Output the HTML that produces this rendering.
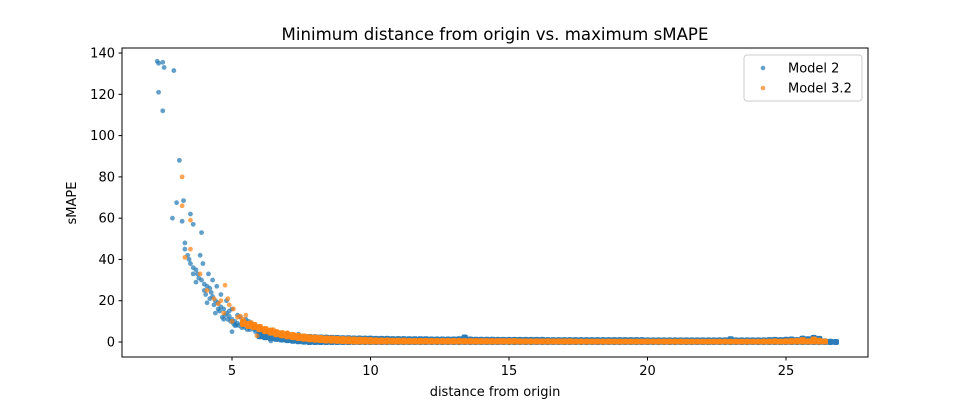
<!DOCTYPE html>
<html><head><meta charset="utf-8"><style>
body{margin:0;background:#fff;}
svg text{font-family:"DejaVu Sans","Liberation Sans",sans-serif;}
</style></head><body>
<svg id="chart" width="965" height="401" xmlns="http://www.w3.org/2000/svg">
<rect width="965" height="401" fill="#fff"/>
<text x="495" y="40" text-anchor="middle" font-size="16.6">Minimum distance from origin vs. maximum sMAPE</text>
<g id="marks"></g>
<rect x="122" y="48" width="746" height="309" fill="none" stroke="#000" stroke-width="1"/>
<g id="axes"></g>
<text x="495" y="396" text-anchor="middle" font-size="13">distance from origin</text>
<text transform="translate(76,203) rotate(-90)" text-anchor="middle" font-size="13">sMAPE</text>
<g>
<rect x="744" y="55" width="118" height="46" rx="3" fill="#fff" fill-opacity="0.8" stroke="#ccc"/>
<circle cx="763" cy="68" r="2.3" fill="#1f77b4" fill-opacity="0.7"/>
<text x="788" y="72.5" font-size="13">Model 2</text>
<circle cx="763" cy="88" r="2.3" fill="#ff7f0e" fill-opacity="0.7"/>
<text x="788" y="92.5" font-size="13">Model 3.2</text>
</g>
</svg>
<script>
const xTicks=[5,10,15,20,25];
const yTicks=[0,20,40,60,80,100,120,140];
const blueHeadX=[2.3,2.35,2.5,2.55,2.9,2.35,2.5,3.1,2.85,3.0,3.2,3.25,3.3,3.3,3.5,3.6,3.9,3.4,3.45,3.5,3.6,3.7,3.75,3.8,3.9,4.0,4.1,4.0,4.2,4.25,4.3,4.4,4.5,4.6,4.7,4.8,4.9,5.0,5.1,5.2,5.4,5.6,5.8,5.0,6.4,3.85,4.15,4.45,3.95,4.3,4.6,4.8,5.0,5.2,5.5,5.7,4.35,4.55,4.75,4.95,5.15,5.35,5.55,4.2,4.9,5.3,5.6,5.9,6.2,6.6,7.0,7.4,4.65,4.85,5.05,5.25,5.45,5.65,5.85,6.05,4.4,4.1,3.7,3.6,4.05,4.5,4.7,5.1];
const blueHeadY=[136,135,135.5,133,131.5,121,112,88,60,67.5,58.5,68.5,48,45,62,57,53,42,40,38,36,35,33,31,30,28,27,25,26,24,22,20,19,17,16,14,12.5,11,10,9,8,7,6,5,0.5,42,33,27,38,30,23,20,16,13,11,9,18,15,13,10,8,7,6,21,15,12,10,7,6,5,4.2,3.8,12,11,9,8,7,6,5,4.5,14,19,29,33,23,16,11,8];
const blueTailX=[6.0,6.2,6.4,6.6,6.8,7.0,7.2,7.4,7.6,7.8,8.0,8.2,8.4,8.6,8.8,9.0,9.2,9.4,9.6,9.8,10.0,10.2,10.4,10.6,10.8,11.0,11.2,11.4,11.6,11.8,12.0,12.2,12.4,12.6,12.8,13.0,13.2,13.4,13.6,13.8,14.0,14.2,14.4,14.6,14.8,15.0,15.2,15.4,15.6,15.8,16.0,16.2,16.4,16.6,16.8,17.0,17.2,17.4,17.6,17.8,18.0,18.2,18.4,18.6,18.8,19.0,19.2,19.4,19.6,19.8,20.0,20.2,20.4,20.6,20.8,21.0,21.2,21.4,21.6,21.8,22.0,22.2,22.4,22.6,22.8,23.0,23.2,23.4,23.6,23.8,24.0,24.2,24.4,24.6,24.8,25.0,25.2,25.4,25.6,25.8,26.0,26.2,26.4,26.6,26.8];
const blueTailY=[5.5,5,4.6,4.2,3.9,3.6,3.3,3.1,2.9,2.7,2.6,2.5,2.4,2.3,2.2,2.1,2.1,2,2,1.9,1.9,1.8,1.8,1.8,1.7,1.7,1.7,1.6,1.6,1.6,1.6,1.5,1.5,1.5,1.5,1.5,1.6,2.5,1.5,1.4,1.4,1.4,1.4,1.3,1.3,1.3,1.3,1.3,1.3,1.3,1.3,1.3,1.2,1.2,1.2,1.2,1.2,1.2,1.2,1.2,1.2,1.2,1.2,1.2,1.2,1.2,1.2,1.2,1.2,1.2,1.1,1.1,1.1,1.1,1.1,1.1,1.1,1.1,1.1,1.1,1.1,1.1,1.1,1.1,1.1,1.6,1.1,1.1,1.1,1.1,1.1,1.1,1.2,1.3,1.2,1.4,1.5,1.2,1.9,1.6,2.3,1.8,0.6,0.4,0.3];
const orangeHeadX=[3.2,3.2,3.5,3.5,3.3,3.85,4.1,4.35,4.5,4.6,4.75,4.9,4.7,5.05,5.2,5.4,5.5,5.7,5.8,5.9,6.1,6.3,5.0,4.85,5.3,6.0,6.5,7.0];
const orangeHeadY=[80,66,59,45,41,33,25,21,18.5,20,27.5,18,14,16,12,11,13,9.5,7,3,6,5,10,21,12.5,7.5,6,4.5];
const orangeTailX=[5.4,5.6,5.8,6.0,6.2,6.4,6.6,6.8,7.0,7.2,7.4,7.6,7.8,8.0,8.2,8.4,8.6,8.8,9.0,9.2,9.4,9.6,9.8,10.0,10.2,10.4,10.6,10.8,11.0,11.2,11.4,11.6,11.8,12.0,12.2,12.4,12.6,12.8,13.0,13.2,13.4,13.6,13.8,14.0,14.2,14.4,14.6,14.8,15.0,15.2,15.4,15.6,15.8,16.0,16.2,16.4,16.6,16.8,17.0,17.2,17.4,17.6,17.8,18.0,18.2,18.4,18.6,18.8,19.0,19.2,19.4,19.6,19.8,20.0,20.2,20.4,20.6,20.8,21.0,21.2,21.4,21.6,21.8,22.0,22.2,22.4,22.6,22.8,23.0,23.2,23.4,23.6,23.8,24.0,24.2,24.4,24.6,24.8,25.0,25.2,25.4,25.6,25.8,26.0,26.2,26.4];
const orangeTailY=[10,9,8.5,7.5,6.5,5.8,5,4.5,4,3.6,3.2,2.9,2.6,2.4,2.2,2,1.9,1.8,1.7,1.6,1.5,1.4,1.3,1.2,1.1,1.0,1.0,0.9,0.9,0.9,0.8,0.8,0.8,0.8,0.8,0.8,0.8,0.8,0.8,0.8,0.7,0.7,0.7,0.7,0.7,0.7,0.7,0.7,0.7,0.7,0.6,0.6,0.6,0.6,0.6,0.6,0.6,0.6,0.6,0.6,0.5,0.5,0.5,0.5,0.5,0.5,0.5,0.5,0.5,0.5,0.5,0.5,0.5,0.5,0.5,0.5,0.5,0.5,0.5,0.5,0.4,0.4,0.4,0.4,0.4,0.4,0.4,0.4,0.4,0.4,0.4,0.4,0.4,0.4,0.5,0.5,0.6,0.5,0.6,0.7,0.8,1.2,0.6,1.5,0.9,0.5];

const NS='http://www.w3.org/2000/svg';
function xs(v){return 93.5+v*27.7;}
function ys(v){return 342-v*2.064;}
const marks=document.getElementById('marks');
const axes=document.getElementById('axes');
function drawSeries(X,Y,color,name){
  for(let i=0;i<X.length;i++){
    const c=document.createElementNS(NS,'circle');
    c.setAttribute('cx',xs(X[i]));c.setAttribute('cy',ys(Y[i]));
    c.setAttribute('r',2.4);c.setAttribute('fill',color);c.setAttribute('fill-opacity',0.7);
    
    
    marks.appendChild(c);
  }
}
// dense band: each tail value is the top of a crowded cluster of limited thickness
function drawBand(X,Y,color,bottom,thick,name){
  for(let i=0;i<X.length;i++){
    const r=document.createElementNS(NS,'rect');
    const top=ys(Y[i])-2.4;
    const bot=Math.min(bottom,top+thick);
    r.setAttribute('x',xs(X[i])-3.2);r.setAttribute('width',6.4);
    r.setAttribute('y',top);r.setAttribute('height',Math.max(4.8,bot-top));
    r.setAttribute('rx',2);r.setAttribute('fill',color);
    
    
    marks.appendChild(r);
  }
}
drawSeries(blueHeadX,blueHeadY,'#1f77b4','model-2-point');
drawBand(blueTailX,blueTailY,'#2a7db8',345,11,'model-2-cluster');
drawBand(orangeTailX,orangeTailY,'#ff8515',344.5,8,'model-3-2-cluster');
drawSeries(orangeHeadX,orangeHeadY,'#ff7f0e','model-3-2-point');
xTicks.forEach(t=>{
  const l=document.createElementNS(NS,'line');
  l.setAttribute('x1',xs(t));l.setAttribute('x2',xs(t));l.setAttribute('y1',357);l.setAttribute('y2',360.5);l.setAttribute('stroke','#000');
  
  
  axes.appendChild(l);
  const tx=document.createElementNS(NS,'text');
  tx.setAttribute('x',xs(t));tx.setAttribute('y',375);tx.setAttribute('text-anchor','middle');tx.setAttribute('font-size','13');
  tx.textContent=t;
  
  
  axes.appendChild(tx);
});
yTicks.forEach(t=>{
  const l=document.createElementNS(NS,'line');
  l.setAttribute('x1',118.5);l.setAttribute('x2',122);l.setAttribute('y1',ys(t));l.setAttribute('y2',ys(t));l.setAttribute('stroke','#000');
  
  
  axes.appendChild(l);
  const tx=document.createElementNS(NS,'text');
  tx.setAttribute('x',115);tx.setAttribute('y',ys(t)+4.5);tx.setAttribute('text-anchor','end');tx.setAttribute('font-size','13');
  tx.textContent=t;
  
  
  axes.appendChild(tx);
});
</script>
</body></html>
